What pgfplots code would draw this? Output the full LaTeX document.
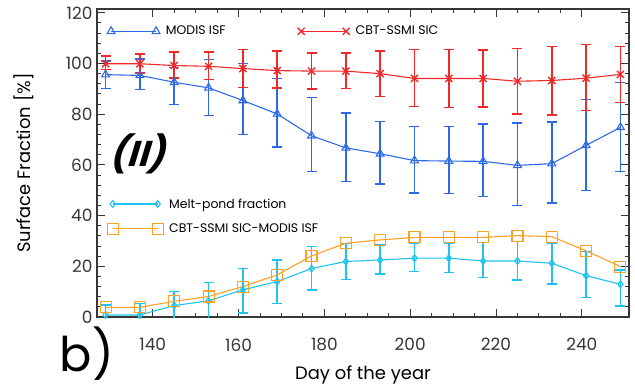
\documentclass[border=0pt]{standalone}
\usepackage{pgfplots}
\usepackage{pgfplotstable}
\pgfplotsset{compat=1.18}
\usepackage{fontspec}
\setmainfont{Poppins}
\definecolor{cBlue}{RGB}{45,105,230}
\definecolor{cRed}{RGB}{240,40,40}
\definecolor{cCyan}{RGB}{30,195,240}
\definecolor{cOrange}{RGB}{255,160,40}
\definecolor{axgray}{RGB}{55,55,55}

\pgfplotstableread{
d v ep em
129 95.6 5.4 5.4
137 95.3 6.5 5.6
145 92.6 5.9 8.8
153 90.4 11.2 11.0
161 85.4 14.5 13.5
169 80.1 14.0 13.1
177 71.5 15.2 14.1
185 66.7 13.8 13.2
193 64.4 12.8 12.0
201 61.7 13.5 12.8
209 61.5 13.7 12.9
217 61.4 14.8 13.8
225 59.8 16.7 15.9
233 60.5 16.5 15.6
241 67.7 18.1 17.8
249 74.8 17.8 17.4
}\isf

\pgfplotstableread{
d v ep em
129 99.9 3.0 2.3
137 99.9 3.9 3.6
145 99.2 5.4 4.9
153 98.9 5.7 5.2
161 98.0 7.5 7.4
169 97.2 7.7 6.8
177 97.0 7.2 7.0
185 97.0 7.2 6.9
193 96.0 8.9 8.9
201 94.1 11.4 11.0
209 94.1 11.4 11.4
217 94.1 11.2 11.3
225 93.0 12.8 12.9
233 93.3 13.5 13.6
241 94.2 13.3 12.7
249 95.7 10.9 11.2
}\sic

\pgfplotstableread{
d v ep em
129 0.8 3.9 3.0
137 0.8 4.5 3.0
145 4.5 5.5 5.5
153 6.4 7.2 7.2
161 10.7 8.5 9.1
169 14.0 8.5 8.6
177 19.1 8.6 8.4
185 21.9 7.2 7.0
193 22.5 6.0 5.6
201 23.2 5.9 5.3
209 23.2 5.9 5.7
217 22.1 7.3 6.6
225 22.1 7.7 7.5
233 21.2 7.9 8.2
241 16.3 9.5 8.7
249 12.9 5.7 8.6
}\melt

\pgfplotstableread{
d v
129 3.8
137 3.8
145 6.2
153 8.1
161 12.0
169 16.6
177 24.1
185 29.1
193 30.4
201 31.4
209 31.4
217 31.4
225 32.1
233 31.7
241 26.1
249 19.9
}\diff

\pgfplotsset{
  myax/.style={
    width=532bp, height=308bp, scale only axis,
    xmin=127, xmax=251, ymin=0, ymax=121.5,
  },
  legimg/.style={
    legend image code/.code={\draw[##1] plot coordinates {(0bp,0bp) (45bp,0bp)};},
  },
}

\begin{document}
\begin{tikzpicture}
\begin{axis}[
  myax, legimg,
  axis line style={axgray, line width=1.3pt},
  tick align=inside, tick pos=both,
  xticklabel pos=lower, yticklabel pos=left,
  xtick={140,160,...,240}, minor x tick num=3,
  ytick={0,20,...,120}, minor y tick num=4,
  major tick length=8bp, minor tick length=4bp,
  every tick/.style={axgray, line width=1pt},
  ticklabel style={font=\fontsize{17}{20}\selectfont, text=axgray},
  xticklabel style={yshift=-18bp},
  yticklabel style={xshift=-1bp},
  /pgf/number format/assume math mode=true,
  xlabel={Day of the year},
  ylabel={Surface Fraction [\%]},
  label style={font=\fontsize{18}{21}\selectfont, text=black},
  xlabel style={yshift=-8bp},
  ylabel style={yshift=25bp},
  legend columns=2, legend cell align=left,
  legend style={at={(0,1)}, anchor=north west, xshift=7bp, yshift=-13bp,
    draw=none, fill=none, font=\fontsize{12.5}{14}\selectfont,
    /tikz/column 1/.style={column sep=4bp},
    /tikz/column 3/.style={column sep=4bp},
    /tikz/column 2/.style={column sep=70bp}},
]
\addplot[cBlue, line width=1.1pt, mark=triangle, mark size=4.5bp, mark options={solid},
  error bars/.cd, y dir=both, y explicit,
  error bar style={line width=1.6pt},
  error mark options={rotate=90, line width=1.4pt, mark size=5bp}]
  table[x=d, y=v, y error plus=ep, y error minus=em] {\isf};
\addlegendentry{MODIS ISF}
\addplot[cRed, line width=1.1pt, mark=x, mark size=5bp, mark options={solid, line width=1.4pt},
  error bars/.cd, y dir=both, y explicit,
  error bar style={line width=1.6pt},
  error mark options={rotate=90, line width=1.4pt, mark size=5bp}]
  table[x=d, y=v, y error plus=ep, y error minus=em] {\sic};
\addlegendentry{CBT-SSMI SIC}
\addplot[cCyan, line width=1.1pt, mark=diamond, mark size=3.5bp, mark options={solid},
  error bars/.cd, y dir=both, y explicit,
  error bar style={line width=1.6pt},
  error mark options={rotate=90, line width=1.4pt, mark size=5bp}]
  table[x=d, y=v, y error plus=ep, y error minus=em] {\melt};
\addplot[cOrange, line width=1.1pt, mark=square, mark size=5.5bp, mark options={solid}]
  table[x=d, y=v] {\diff};
\node[font=\bfseries\fontsize{36}{40}\selectfont, xslant=0.3] at (axis cs:137.3,64.5) {(II)};
\coordinate (sw) at (rel axis cs:0,0);
\coordinate (ne) at (rel axis cs:1,1);
\end{axis}
\begin{axis}[
  myax, legimg, hide axis, legend cell align=left,
  legend style={at={(0,0)}, anchor=south west, xshift=7bp, yshift=79bp,
    draw=none, fill=none, font=\fontsize{12.5}{14}\selectfont, row sep=10bp,
    /tikz/column 1/.style={column sep=4bp}},
]
\addlegendimage{cCyan, line width=1.1pt, mark=diamond, mark size=3.5bp, mark options={solid}}
\addlegendentry{Melt-pond fraction}
\addlegendimage{cOrange, line width=1.1pt, mark=square, mark size=5.5bp, mark options={solid}}
\addlegendentry{CBT-SSMI SIC-MODIS ISF}
\end{axis}
\node[font=\fontsize{48}{52}\selectfont] at ([shift={(-10bp,-37bp)}]sw) {b)};
\pgfresetboundingbox
\path ([shift={(-97bp,-74bp)}]sw) rectangle ([shift={(6bp,9bp)}]ne);
\end{tikzpicture}
\end{document}
